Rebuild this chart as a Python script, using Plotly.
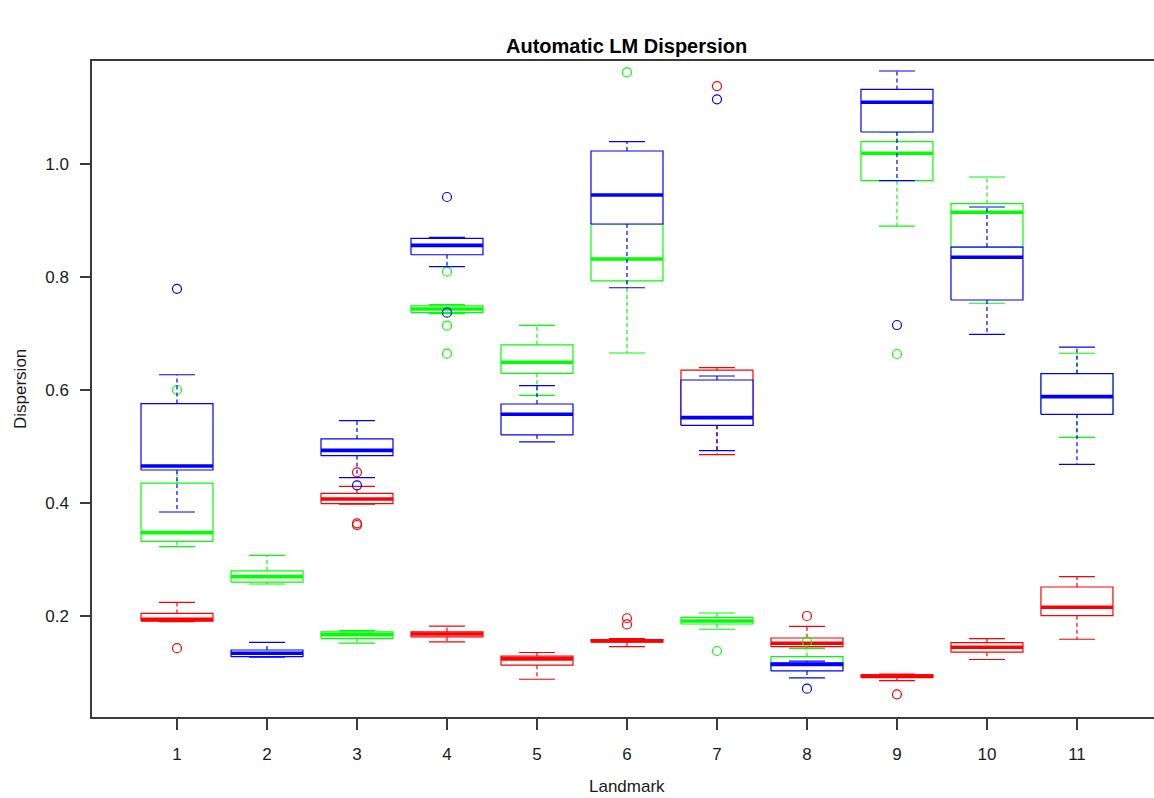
import plotly.graph_objects as go

# Landmark index on the x axis
landmarks = list(range(1, 12))
tick_labels = [str(i) for i in landmarks]

# Box statistics per method: lower whisker, Q1, median, Q3, upper whisker.
# None marks a landmark where the method has no box.
red_lo  = [0.190, None, 0.398, 0.154, 0.088, 0.1457, 0.4855, 0.1428, 0.0855, 0.123, 0.1588]
red_q1  = [0.191, None, 0.399, 0.163, 0.113, 0.154, 0.5375, 0.1457, 0.091, 0.136, 0.2005]
red_med = [0.194, None, 0.407, 0.168, 0.124, 0.156, 0.551, 0.1517, 0.0935, 0.1446, 0.2154]
red_q3  = [0.2046, None, 0.417, 0.172, 0.129, 0.158, 0.635, 0.161, 0.096, 0.153, 0.2513]
red_hi  = [0.2242, None, 0.4295, 0.182, 0.1354, 0.160, 0.6395, 0.1817, 0.097, 0.160, 0.2696]
red_out = [[0.143], [], [0.4543, 0.364, 0.361], [], [], [0.196, 0.185], [1.138], [0.200], [0.0614], [], []]

green_lo  = [0.3227, 0.2566, 0.152, 0.735, 0.5906, 0.6655, 0.1765, 0.105, 0.890, 0.7535, 0.5163]
green_q1  = [0.332, 0.260, 0.160, 0.737, 0.6295, 0.793, 0.1858, 0.108, 0.9705, 0.853, 0.557]
green_med = [0.3475, 0.2696, 0.167, 0.7434, 0.649, 0.8319, 0.1912, 0.114, 1.019, 0.9145, 0.588]
green_q3  = [0.435, 0.2797, 0.172, 0.749, 0.680, 0.894, 0.1977, 0.128, 1.0395, 0.930, 0.629]
green_hi  = [0.460, 0.3074, 0.174, 0.751, 0.7145, 0.945, 0.2053, 0.1428, 1.0566, 0.977, 0.665]
green_out = [[0.600], [], [], [0.8094, 0.7138, 0.6643], [], [1.162], [0.138], [0.1546], [0.6637], [], []]

blue_lo  = [0.384, 0.127, 0.4448, 0.8183, 0.508, 0.781, 0.4926, 0.0903, 0.9705, 0.6986, 0.4685]
blue_q1  = [0.4584, 0.128, 0.4838, 0.8394, 0.5204, 0.8938, 0.5375, 0.1027, 1.0566, 0.7593, 0.557]
blue_med = [0.4655, 0.134, 0.4932, 0.856, 0.557, 0.945, 0.551, 0.114, 1.1094, 0.835, 0.5882]
blue_q3  = [0.576, 0.1398, 0.5133, 0.8685, 0.5752, 1.023, 0.6177, 0.117, 1.132, 0.853, 0.6289]
blue_hi  = [0.627, 0.1534, 0.5457, 0.870, 0.6076, 1.0395, 0.6248, 0.120, 1.1646, 0.9239, 0.676]
blue_out = [[0.779], [], [0.4313], [0.9416, 0.7369], [], [], [1.1145], [0.0714], [0.715], [], []]

groups = [
    ("#FF0000", red_lo, red_q1, red_med, red_q3, red_hi, red_out),
    ("#00FF00", green_lo, green_q1, green_med, green_q3, green_hi, green_out),
    ("#0000FF", blue_lo, blue_q1, blue_med, blue_q3, blue_hi, blue_out),
]

HALF_BOX = 0.4     # boxwex 0.8
HALF_CAP = 0.2     # staples half as wide as the box
BOX_LW = 1.2
MED_LW = 3.6

fig = go.Figure()

for color, lo, q1, med, q3, hi, outs in groups:
    for i, x in enumerate(landmarks):
        if med[i] is None:
            continue
        # white-filled box
        fig.add_trace(go.Scatter(
            x=[x - HALF_BOX, x + HALF_BOX, x + HALF_BOX, x - HALF_BOX, x - HALF_BOX],
            y=[q1[i], q1[i], q3[i], q3[i], q1[i]],
            mode="lines", fill="toself", fillcolor="white",
            line=dict(color=color, width=BOX_LW), hoverinfo="skip"))
        # median
        fig.add_trace(go.Scatter(
            x=[x - HALF_BOX, x + HALF_BOX], y=[med[i], med[i]],
            mode="lines", line=dict(color=color, width=MED_LW), hoverinfo="skip"))
        # dashed whiskers
        fig.add_trace(go.Scatter(
            x=[x, x, None, x, x], y=[q1[i], lo[i], None, q3[i], hi[i]],
            mode="lines", line=dict(color=color, width=BOX_LW, dash="4px,3px"),
            hoverinfo="skip"))
        # staples
        fig.add_trace(go.Scatter(
            x=[x - HALF_CAP, x + HALF_CAP, None, x - HALF_CAP, x + HALF_CAP],
            y=[lo[i], lo[i], None, hi[i], hi[i]],
            mode="lines", line=dict(color=color, width=BOX_LW), hoverinfo="skip"))
        # outliers
        if outs[i]:
            fig.add_trace(go.Scatter(
                x=[x] * len(outs[i]), y=outs[i], mode="markers",
                marker=dict(symbol="circle-open", size=9, color=color,
                            line=dict(width=1.2, color=color)),
                hoverinfo="skip"))

axis_color = "#3a3a3a"
font_family = "Liberation Sans, Arial, sans-serif"

fig.update_layout(
    width=1154, height=798,
    margin=dict(l=92, r=0, t=61, b=81),
    paper_bgcolor="white", plot_bgcolor="white",
    showlegend=False,
    font=dict(family=font_family, size=17, color="#1a1a1a"),
    xaxis=dict(
        range=[0.0556, 11.856], tickmode="array", tickvals=landmarks,
        ticktext=tick_labels, ticks="outside", ticklen=11, tickwidth=1.5,
        tickcolor=axis_color, showline=True, linecolor=axis_color, linewidth=1.5,
        mirror=True, showgrid=False, zeroline=False, ticklabelstandoff=10,
    ),
    yaxis=dict(
        range=[0.0212, 1.1823], tickmode="array",
        tickvals=[0.2, 0.4, 0.6, 0.8, 1.0],
        ticktext=["0.2", "0.4", "0.6", "0.8", "1.0"],
        ticks="outside", ticklen=10, tickwidth=1.5, tickcolor=axis_color,
        showline=True, linecolor=axis_color, linewidth=1.5, mirror=False,
        showgrid=False, zeroline=False, ticklabelstandoff=8,
    ),
    annotations=[
        dict(text="<b>Automatic LM Dispersion</b>", x=6, xref="x", y=1, yref="paper",
             yanchor="middle", yshift=15, showarrow=False,
             font=dict(size=20, family=font_family, color="#000000")),
        dict(text="Landmark", x=6, xref="x", y=0, yref="paper", yanchor="middle",
             yshift=-69, showarrow=False, font=dict(size=17, family=font_family)),
        dict(text="Dispersion", x=0, xref="paper", xanchor="center", xshift=-72,
             y=0.5, yref="paper", textangle=-90, showarrow=False,
             font=dict(size=17, family=font_family)),
    ],
)

fig.write_html("out.html")
